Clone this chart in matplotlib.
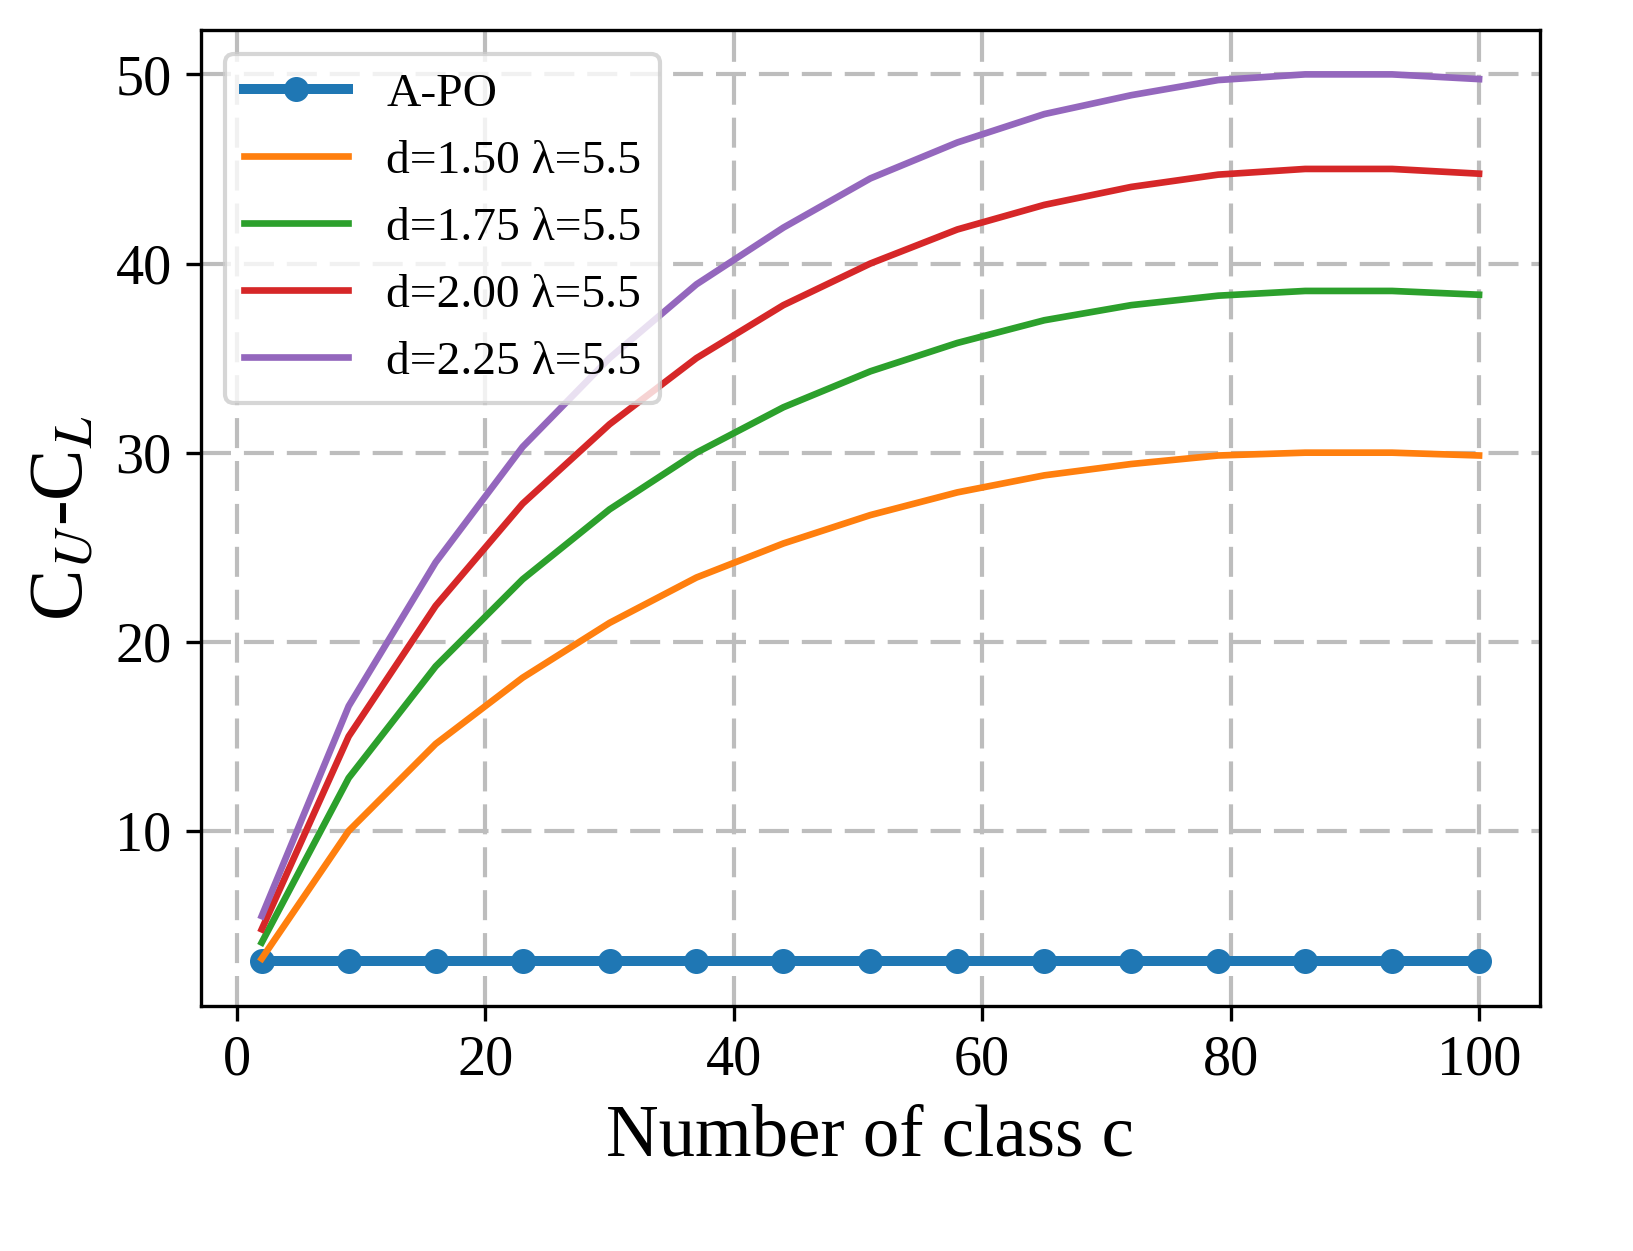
import matplotlib
matplotlib.use('Agg')
import matplotlib.pyplot as plt

# font setup - serif like Times
plt.rcParams['font.family'] = ['Liberation Serif', 'DejaVu Serif']
plt.rcParams['mathtext.fontset'] = 'stix'

# data
num_class = [2, 9, 16, 23, 30, 37, 44, 51, 58, 65, 72, 79, 86, 93, 100]
apo = [3.1] * len(num_class)
d150 = [3.25, 10.0, 14.6, 18.1, 21.0, 23.4, 25.2, 26.7, 27.9, 28.8, 29.4, 29.85, 30.0, 30.0, 29.85]
d175 = [4.1, 12.8, 18.7, 23.3, 27.0, 30.0, 32.4, 34.3, 35.8, 37.0, 37.8, 38.3, 38.55, 38.55, 38.35]
d200 = [4.8, 15.0, 21.9, 27.3, 31.5, 35.0, 37.8, 40.0, 41.8, 43.1, 44.05, 44.7, 45.0, 45.0, 44.75]
d225 = [5.5, 16.6, 24.2, 30.3, 35.0, 38.9, 41.9, 44.5, 46.4, 47.9, 48.9, 49.7, 50.0, 50.0, 49.75]

labels = ['A-PO', 'd=1.50 λ=5.5', 'd=1.75 λ=5.5', 'd=2.00 λ=5.5', 'd=2.25 λ=5.5']
colors = ['#1f77b4', '#ff7f0e', '#2ca02c', '#d62728', '#9467bd']

fig, ax = plt.subplots(figsize=(1633 / 300, 1251 / 300), dpi=300)
plt.subplots_adjust(left=0.123, right=0.943, bottom=0.196, top=0.976)

ax.plot(num_class, apo, color=colors[0], lw=2.4, marker='o', markersize=5, label=labels[0])
for ys, lab, col in zip([d150, d175, d200, d225], labels[1:], colors[1:]):
    ax.plot(num_class, ys, color=col, lw=1.6, label=lab)

ax.grid(True, color='#bdbdbd', lw=1.0, linestyle=(0, (7.2, 3.1)))
ax.set_axisbelow(True)

ax.set_xlabel('Number of class c', fontsize=17.5)
ax.set_ylabel('C$_U$-C$_L$', fontsize=18.5)
ax.tick_params(labelsize=13.5)

ax.legend(loc='upper left', fontsize=11.4, handlelength=2.2)

fig.savefig('out.png', dpi=300)
